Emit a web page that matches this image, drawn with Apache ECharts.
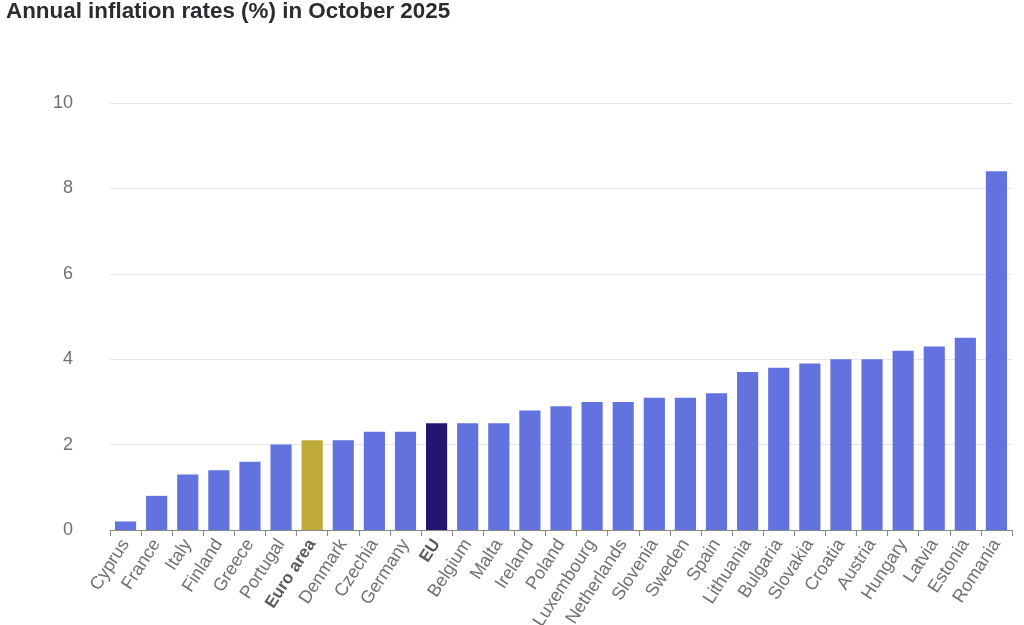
<!DOCTYPE html>
<html>
<head>
<meta charset="utf-8">
<script src="https://cdn.jsdelivr.net/npm/echarts@6/dist/echarts.min.js"></script>
<style>
html,body{margin:0;padding:0;background:#fff;}
#chart{width:1024px;height:625px;}
</style>
</head>
<body>
<div id="chart"></div>
<script>
const categories = ["Cyprus","France","Italy","Finland","Greece","Portugal","Euro area","Denmark","Czechia","Germany","EU","Belgium","Malta","Ireland","Poland","Luxembourg","Netherlands","Slovenia","Sweden","Spain","Lithuania","Bulgaria","Slovakia","Croatia","Austria","Hungary","Latvia","Estonia","Romania"];
const values = [0.2,0.8,1.3,1.4,1.6,2.0,2.1,2.1,2.3,2.3,2.5,2.5,2.5,2.8,2.9,3.0,3.0,3.1,3.1,3.2,3.7,3.8,3.9,4.0,4.0,4.2,4.3,4.5,8.4];
const highlight = {"Euro area":"#bfaa38","EU":"#231673"};
const yTicks = [0,2,4,6,8,10];
const titleText = "Annual inflation rates (%) in October 2025";

const chart = echarts.init(document.getElementById('chart'), null, {renderer:'canvas'});
const FONT = '"Liberation Sans", Arial, Helvetica, sans-serif';
chart.setOption({
  animation:false,
  backgroundColor:'#fff',
  title:{
    text:titleText,
    left:1, top:-4,
    textStyle:{fontFamily:FONT,fontWeight:'bold',fontSize:22.4,color:'#2b2b30'}
  },
  grid:{left:110,right:12,top:103,bottom:95,containLabel:false,outerBoundsMode:'none'},
  xAxis:{
    type:'category',
    data:categories,
    axisLine:{show:true,lineStyle:{color:'#888',width:1}},
    axisTick:{show:true,length:6,lineStyle:{color:'#888'}},
    axisLabel:{
      rotate:57, interval:0, margin:11,
      fontFamily:FONT, fontSize:18, color:'#707070',
      formatter:function(v){ return highlight[v] ? '{b|'+v+'}' : v; },
      rich:{b:{fontWeight:'bold',fontFamily:FONT,fontSize:17,color:'#5a5a5a'}}
    }
  },
  yAxis:{
    type:'value',
    min:yTicks[0], max:yTicks[yTicks.length-1], interval:2,
    axisLine:{show:false},
    axisTick:{show:false},
    splitLine:{lineStyle:{color:'#e4e6ef',width:1}},
    axisLabel:{margin:37,fontFamily:FONT,fontSize:18,color:'#707070'}
  },
  series:[{
    type:'bar',
    data:values.map((v,i)=>({value:v,itemStyle:{color:highlight[categories[i]]||'#6272de'}})),
    barCategoryGap:'32%'
  }]
});
</script>
</body>
</html>
